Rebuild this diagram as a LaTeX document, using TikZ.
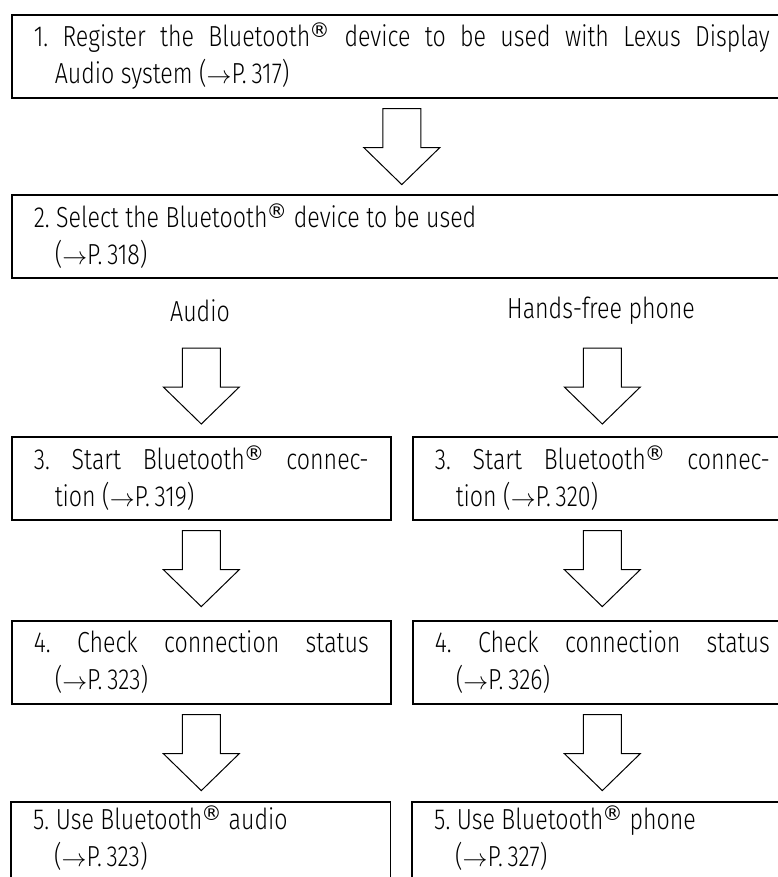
\documentclass[tikz,border=0pt]{standalone}
\usepackage{fontspec}
\setmainfont[FakeStretch=0.8]{Fira Sans Light}
\newfontfamily\regfont{DejaVu Sans}
\newcommand\boxtext[2]{\parbox{#1}{\fontsize{29}{37}\selectfont\frenchspacing\emergencystretch=20pt\hangindent=21pt\hangafter=1 #2}}
\newcommand\rarr{\ensuremath{\rightarrow}}
\newcommand\reg{\kern-1pt\textsuperscript{\regfont ®}}
\begin{document}
\begin{tikzpicture}[x=1pt,y=-1pt,
  stepbox/.style={draw,line width=1.6pt,rectangle,anchor=north west,inner sep=0pt,minimum height=83pt},
  widebox/.style={stepbox,minimum width=780pt},
  colbox/.style={stepbox,minimum width=379pt},
  openbox/.style={rectangle,anchor=north west,inner sep=0pt,minimum height=71pt,minimum width=379pt},
  frame/.style={draw,line width=1.6pt},
  blockarrow/.style={draw,line width=1pt,fill=white,line join=miter},
  lbl/.style={inner sep=0pt,font=\fontsize{29}{37}\selectfont}]
\newcommand\downblock[1]{\draw[blockarrow] (#1) ++(-19,0) -- ++(0,39) -- ++(-19,0) -- ++(38,37) -- ++(38,-37) -- ++(-19,0) -- ++(0,-39) -- cycle;}
\useasboundingbox (0,0) rectangle (778,877);
\clip (0,0) rectangle (778,877);

\node[widebox] (b1) at (11,14) {\boxtext{736pt}{1. Register the Bluetooth\reg{} device to be used with Lexus Display\linebreak Audio system (\rarr P.\,317)}};
\node[widebox] (b2) at (11,194) {\boxtext{736pt}{2. Select the Bluetooth\reg{} device to be used\\(\rarr P.\,318)}};

\node[lbl] (la) at (200,311) {Audio};
\node[lbl] (lh) at (601,311) {Hands-free phone};

\node[colbox] (b3l) at (11,436) {\boxtext{335pt}{3. Start Bluetooth\reg{} connec-\linebreak tion (\rarr P.\,319)}};
\node[colbox] (b3r) at (412,436) {\boxtext{335pt}{3. Start Bluetooth\reg{} connec-\linebreak tion (\rarr P.\,320)}};
\node[colbox] (b4l) at (11,620) {\boxtext{335pt}{4. Check connection status\linebreak (\rarr P.\,323)}};
\node[colbox] (b4r) at (412,620) {\boxtext{335pt}{4. Check connection status\linebreak (\rarr P.\,326)}};
\node[openbox] (b5l) at (11,802) {\boxtext{335pt}{5. Use Bluetooth\reg{} audio\\(\rarr P.\,323)}};
\node[openbox] (b5r) at (412,802) {\boxtext{335pt}{5. Use Bluetooth\reg{} phone\\(\rarr P.\,327)}};
\draw[frame] (b5l.north west) rectangle ([yshift=-30pt]b5l.south east);
\draw[frame] (b5r.north west) rectangle ([yshift=-30pt]b5r.south east);

\downblock{[yshift=-10pt]b1.south}
\downblock{[yshift=88pt]b3l.north}
\downblock{[yshift=88pt]b3r.north}
\downblock{[yshift=-10pt]b3l.south}
\downblock{[yshift=-10pt]b3r.south}
\downblock{[yshift=-10pt]b4l.south}
\downblock{[yshift=-10pt]b4r.south}
\end{tikzpicture}
\end{document}
